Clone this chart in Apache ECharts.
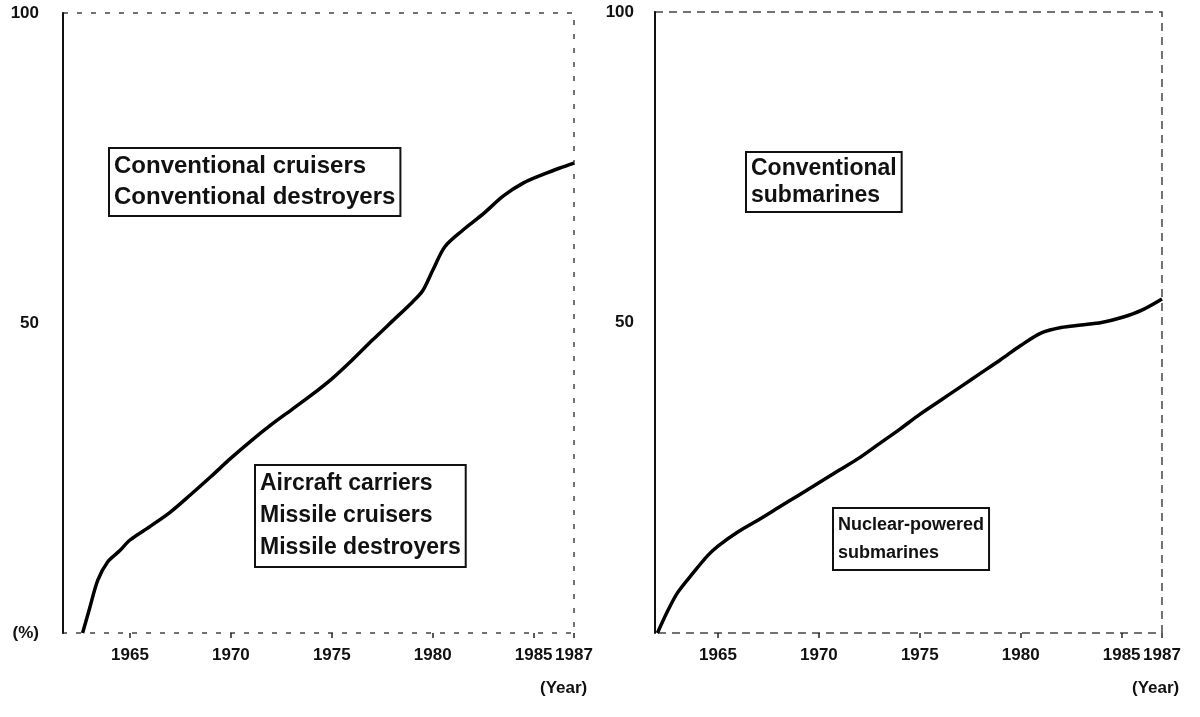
<!doctype html>
<meta charset="utf-8">
<title>Ship share</title>
<style>
	html, body { margin: 0; padding: 0; background: #fff; }
	#chart { width: 1200px; height: 717px; }
</style>
<div id="chart"></div>
<script src="https://cdn.jsdelivr.net/npm/echarts@6/dist/echarts.min.js"></script>
<script>
	// surface ships: share of new types (%)
	var leftYears = [1962.65, 1963.0, 1963.4, 1963.9, 1964.5, 1965, 1966, 1967, 1968, 1969, 1970, 1971, 1972, 1973, 1974, 1975, 1976, 1977, 1978, 1979, 1979.5, 1980, 1980.6, 1981.5, 1982.5, 1983.5, 1984.5, 1985.5, 1986.3, 1987];
	var leftShare = [0, 4, 8.5, 11.5, 13.3, 15, 17.2, 19.5, 22.3, 25.2, 28.2, 31, 33.6, 36, 38.4, 41, 44, 47.2, 50.3, 53.4, 55.2, 58.5, 62.3, 65, 67.6, 70.5, 72.6, 74, 75, 75.8];
	// submarines: share of nuclear-powered (%)
	var rightYears = [1962.0, 1962.5, 1963, 1963.8, 1964.5, 1965, 1966, 1967, 1968, 1969, 1970, 1971, 1972, 1973, 1974, 1975, 1976, 1977, 1978, 1979, 1980, 1981, 1982, 1983, 1984, 1985, 1986, 1987];
	var rightShare = [0, 3.5, 6.5, 9.8, 12.5, 14, 16.3, 18.2, 20.2, 22.2, 24.2, 26.2, 28.2, 30.5, 32.8, 35.2, 37.4, 39.6, 41.8, 44, 46.3, 48.3, 49.2, 49.6, 50, 50.8, 52, 53.8];
	var yearTicks = [1965, 1970, 1975, 1980, 1985, 1987];

	function pairs(xs, ys) {
		return xs.map(function (x, i) { return [x, ys[i]]; });
	}

	var labelFont = { fontFamily: 'Liberation Sans', fontWeight: 'bold', color: '#111' };

	function xAxisFor(idx, min) {
		return {
			gridIndex: idx, type: 'value', min: min, max: 1987,
			axisLine: { show: false },
			splitLine: { show: false },
			axisTick: { show: true, length: 5, customValues: yearTicks, lineStyle: { color: '#222', width: 1.5 } },
			axisLabel: Object.assign({
				customValues: yearTicks, fontSize: 17, margin: 14, hideOverlap: false,
				formatter: function (v) { return String(v); }
			}, labelFont)
		};
	}
	function yAxisFor(idx, zeroText, margin) {
		return {
			gridIndex: idx, type: 'value', min: 0, max: 100, interval: 50,
			axisLine: { show: true, lineStyle: { color: '#111', width: 2 } },
			axisTick: { show: false },
			splitLine: { show: false },
			axisLabel: Object.assign({
				fontSize: 17, margin: margin,
				formatter: function (v) { return v === 0 ? zeroText : String(v); }
			}, labelFont)
		};
	}
	function boxText(x, y, text, size, lh) {
		return {
			type: 'text', left: x, top: y,
			style: {
				text: text, fontFamily: 'Liberation Sans', fontWeight: 'bold', fontSize: size,
				lineHeight: lh, fill: '#111', backgroundColor: '#fff',
				borderColor: '#111', borderWidth: 2, padding: [2, 4, 2, 4]
			}
		};
	}

	var chart = echarts.init(document.getElementById('chart'));
	chart.setOption({
		animation: false,
		grid: [
			{ left: 63, right: 626, top: 13, bottom: 84, show: true, borderColor: '#444', borderWidth: 1.5, borderType: [5, 9] },
			{ left: 655, right: 38, top: 12, bottom: 84, show: true, borderColor: '#444', borderWidth: 1.5, borderType: [8, 6] }
		],
		xAxis: [xAxisFor(0, 1961.68), xAxisFor(1, 1961.88)],
		yAxis: [yAxisFor(0, '(%)', 24), yAxisFor(1, '', 21)],
		series: [
			{ type: 'line', xAxisIndex: 0, yAxisIndex: 0, data: pairs(leftYears, leftShare), smooth: 0.3, symbol: 'none', lineStyle: { color: '#000', width: 3.5 } },
			{ type: 'line', xAxisIndex: 1, yAxisIndex: 1, data: pairs(rightYears, rightShare), smooth: 0.3, symbol: 'none', lineStyle: { color: '#000', width: 3.5 } }
		],
		graphic: [
			boxText(108, 147, 'Conventional cruisers\nConventional destroyers', 24, 31),
			boxText(254, 464, 'Aircraft carriers\nMissile cruisers\nMissile destroyers', 23, 32),
			boxText(745, 151, 'Conventional\nsubmarines', 23, 27),
			boxText(832, 507, 'Nuclear-powered\nsubmarines', 18, 28),
			{ type: 'text', left: 540, top: 680, style: { text: '(Year)', fontFamily: 'Liberation Sans', fontWeight: 'bold', fontSize: 17, fill: '#111' } },
			{ type: 'text', left: 1132, top: 680, style: { text: '(Year)', fontFamily: 'Liberation Sans', fontWeight: 'bold', fontSize: 17, fill: '#111' } }
		]
	});
</script>
